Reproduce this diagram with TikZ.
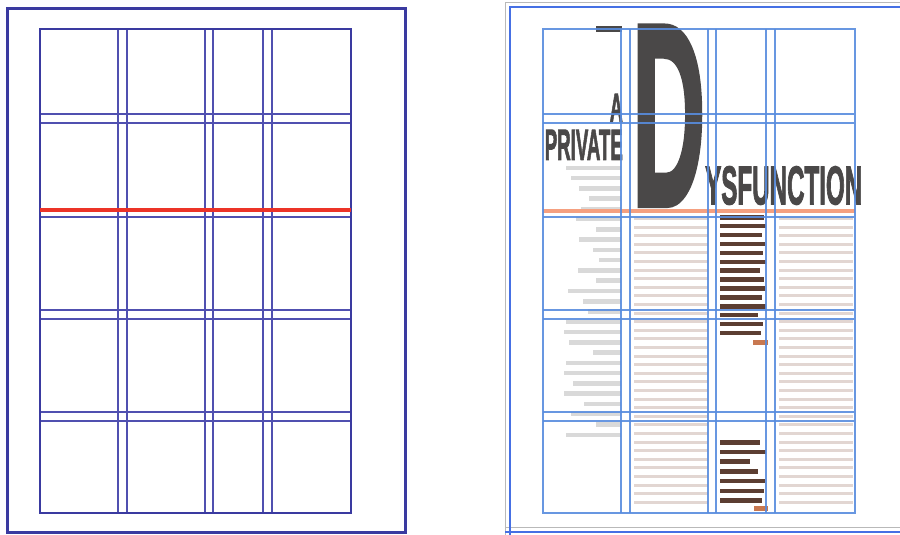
\documentclass[tikz,border=0pt]{standalone}
\usepackage{fontspec}
\usepackage{graphicx}
\newfontfamily\titrefont[BoldFeatures={FakeBold=2.5}]{Liberation Sans}

\definecolor{cadre}{RGB}{58,58,160}
\definecolor{guide}{RGB}{80,80,176}
\definecolor{rouge}{RGB}{236,52,40}
\definecolor{bleuclair}{RGB}{88,140,222}
\definecolor{saumon}{RGB}{245,160,128}
\definecolor{titregris}{RGB}{74,72,72}
\definecolor{texteclair}{RGB}{226,214,210}
\definecolor{textefonce}{RGB}{92,62,50}
\definecolor{fin}{RGB}{200,120,80}

\tikzset{
  titre/.style={inner sep=0pt, text=titregris, font=\titrefont\bfseries},
  ligneguide/.style={line width=1.2pt}
}

% grille de maquette (colonnes et rangees)
\newcommand{\grille}{%
  \foreach \x in {118,127,205,213,263,272}
    \draw (\x,29) -- (\x,513);
  \foreach \y in {114,123,217,310,319,412,421}
    \draw (40,\y) -- (351,\y);
}

\begin{document}
\begin{tikzpicture}[x=1pt,y=-1pt]

\useasboundingbox (0,0) rectangle (900,535);

% Grille vierge
\draw[cadre, line width=3pt]
(7,9)
rectangle
(405,532);

\begin{scope}[guide, ligneguide]
\grille
\end{scope}

\draw[cadre, line width=1.8pt]
(40,29)
rectangle
(351,513);

\draw[rouge, line width=4pt]
(40,210)
--
(351,210);

% Page maquettee
\draw[gray!55, line width=0.8pt]
(505,535)
--
(505,2)
--
(900,2);

\draw[gray!55, line width=0.8pt]
(505,527)
--
(900,527);

\draw[bleuclair!80!blue, line width=2.5pt]
(510,535)
--
(510,7)
--
(900,7);

\draw[bleuclair!80!blue, line width=2.5pt]
(505,532)
--
(900,532);

% texte courant (illisible)
\foreach \w [count=\i from 0] in {55,50,42,32,40,45,25,42,28,22,43,25,53,38,33,55,57,52,28,55,57,48,57,37,50,25,55}
  \fill[gray!30] ({621-\w},{165.5+10.27*\i}) rectangle (621,{170+10.27*\i});

\foreach \i in {0,...,33}
{
  \fill[texteclair] (634,{217+8.6*\i}) rectangle (708,{220+8.6*\i});
  \fill[texteclair] (779,{217+8.6*\i}) rectangle (853,{220+8.6*\i});
}

\foreach \w [count=\i from 0] in {44,46,42,45,43,46,40,44,45,42,46,38,43,41}
  \fill[textefonce] (720,{215+8.9*\i}) rectangle ({720+\w},{219.5+8.9*\i});
\fill[fin] (753,340) rectangle (768,345);

\foreach \w [count=\i from 0] in {40,46,30,38,45,44,42}
  \fill[textefonce] (720,{440+9.7*\i}) rectangle ({720+\w},{444.5+9.7*\i});
\fill[fin] (754,506) rectangle (768,511);

% titre
\fill[titregris]
(596,26)
rectangle
(622,32);

\node[titre, anchor=south east] (a) at (623,122)
  {\resizebox{13pt}{28pt}{A}};
\node[titre, anchor=south east] (private) at (623,160)
  {\resizebox{78pt}{30pt}{PRIVATE}};
\node[titre, anchor=south west] (d) at (632,205)
  {\resizebox{73pt}{178pt}{D}};
\node[titre, anchor=south west] (ysfunction) at (705,205)
  {\resizebox{157pt}{38pt}{YSFUNCTION}};

\draw[saumon, line width=4.5pt]
(543,211)
--
(855,211);

\begin{scope}[xshift=503pt, bleuclair, ligneguide, opacity=0.9]
\grille
\draw (40,29) rectangle (352,513);
\end{scope}

\end{tikzpicture}
\end{document}
